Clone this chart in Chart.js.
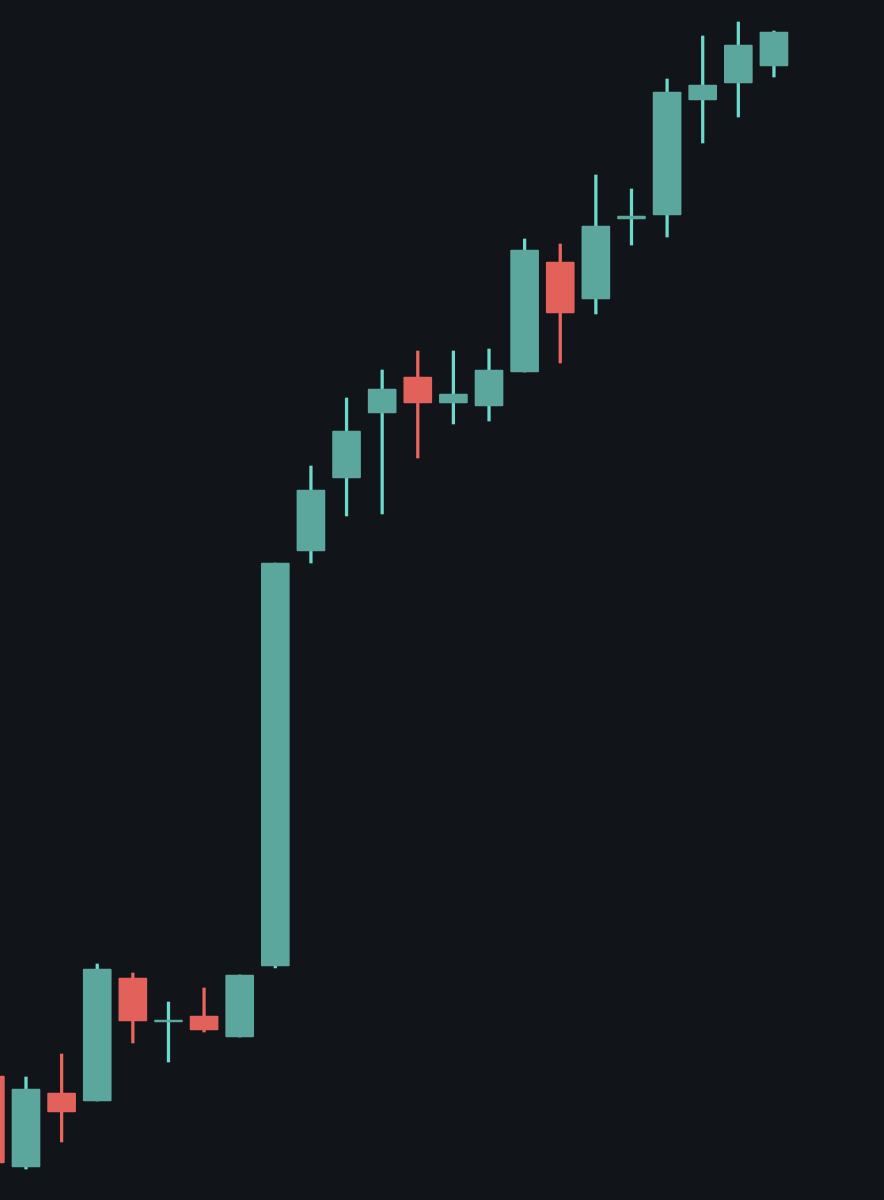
<!DOCTYPE html>
<html>
<head>
<meta charset="utf-8">
<script src="https://cdn.jsdelivr.net/npm/chart.js@4/dist/chart.umd.min.js"></script>
<style>
  html, body { margin:0; padding:0; background:#111519; }
  #wrap { position:relative; width:884px; height:1200px; }
</style>
</head>
<body>
<div id="wrap"><canvas id="ch-candles"></canvas></div>
<script>
// ── data (price units) ──
const opens  = [124, 33, 107,  99, 222, 178, 184, 163, 234, 649, 722, 787, 823, 797, 794, 828, 938, 901, 981, 985, 1100, 1117, 1134];
const highs  = [124, 123, 146, 236, 227, 198, 212, 225, 637, 734, 802, 830, 849, 849, 851, 961, 956, 1025, 1011, 1121, 1164, 1178, 1169];
const lows   = [ 37,  31,  58,  99, 157, 138, 168, 163, 232, 637, 684, 686, 742, 776, 779, 828, 837, 886, 955, 963, 1057, 1083, 1123];
const closes = [ 37, 111,  88, 231, 179, 180, 170, 225, 637, 710, 769, 811, 797, 806, 830, 950, 887, 974, 984, 1108, 1115, 1155, 1168];

const UP_BODY = '#5ba79d', UP_WICK = '#6cd9ca';
const DN_BODY = '#e2625b', DN_WICK = '#e8665e';

const isUp = opens.map((o, i) => closes[i] >= o);

const bodies = opens.map((o, i) => ({ x: i, y: [o, closes[i]] }));
const wicks  = lows.map((l, i) => ({ x: i, y: [l, highs[i]] }));

new Chart(document.getElementById('ch-candles').getContext('2d'), {
  type: 'bar',
  data: {
    datasets: [
      { label:'body', data: bodies, order: 0, grouped: false,
        backgroundColor: isUp.map(u => u ? UP_BODY : DN_BODY),
        barThickness: 28, borderRadius: 1, borderSkipped: false },
      { label:'wick', data: wicks, order: 1, grouped: false,
        backgroundColor: isUp.map(u => u ? UP_WICK : DN_WICK),
        barThickness: 2.6, borderSkipped: false },
    ]
  },
  options: {
    responsive: true, maintainAspectRatio: false, animation: false,
    layout: { padding: 0 },
    plugins: { legend: { display:false }, tooltip: { enabled:false } },
    scales: {
      x: { type:'linear', display:false, offset:false, bounds:'data', grace:0, min: 0.27, max: 25.09 },
      y: { type:'linear', display:false, min: 0, max: 1200 }
    }
  }
});
</script>
</body>
</html>
